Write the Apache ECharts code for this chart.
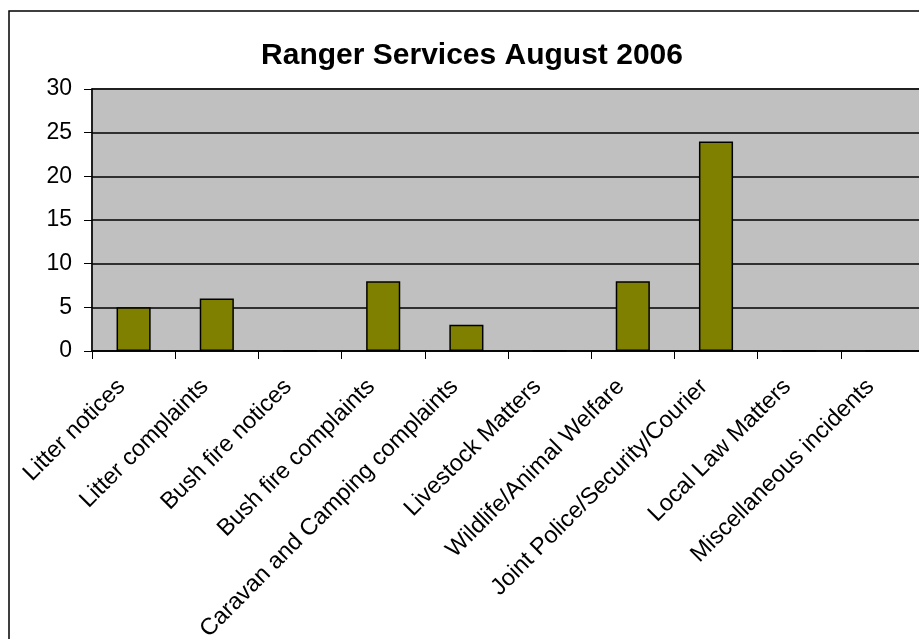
<!DOCTYPE html>
<html><head><meta charset="utf-8">
<script src="https://cdn.jsdelivr.net/npm/echarts@6/dist/echarts.min.js"></script>
<style>html,body{margin:0;padding:0;background:#fff}#c{width:919px;height:639px}</style>
</head><body><div id="c"></div>
<script>
const categories = ["Litter notices","Litter complaints","Bush fire notices","Bush fire complaints","Caravan and Camping complaints","Livestock Matters","Wildlife/Animal Welfare","Joint Police/Security/Courier","Local Law Matters","Miscellaneous incidents"];
const values = [5,6,0,8,3,0,8,24,0,0];
const yTicks = [0,5,10,15,20,25,30];
const titleText = "Ranger Services August 2006";

const chart = echarts.init(document.getElementById('c'));
const F = 'Liberation Sans, Arial, sans-serif';
chart.setOption({
  animation:false,
  backgroundColor:'#fff',
  title:{text:titleText,left:467,top:36,textAlign:'center',textStyle:{fontFamily:F,fontWeight:'bold',fontSize:30,color:'#000'}},
  graphic:[{type:'rect',shape:{x:9,y:11,width:1000,height:1000},style:{fill:null,stroke:'#000',lineWidth:1.5},z:100}],
  grid:{left:92,top:89,right:-5,bottom:288,outerBoundsMode:'none',containLabel:false,show:true,backgroundColor:'#C0C0C0',borderColor:'#808080',borderWidth:2},
  xAxis:{type:'category',data:categories,
    axisLine:{lineStyle:{color:'#000',width:1.5}},
    axisTick:{show:true,length:8,lineStyle:{color:'#000'}},
    axisLabel:{rotate:45,interval:0,fontFamily:F,fontSize:23.5,color:'#000',margin:20,padding:[0,17,0,0]}},
  yAxis:{type:'value',min:0,max:30,interval:5,
    axisLine:{show:true,lineStyle:{color:'#000',width:1.5}},
    axisTick:{show:true,length:8,lineStyle:{color:'#000'}},
    axisLabel:{fontFamily:F,fontSize:23,color:'#000',margin:20,
      formatter:v=>yTicks.includes(v)?String(v):''},
    splitLine:{show:true,lineStyle:{color:'#000',width:1.5}}},
  series:[{type:'bar',data:values,barWidth:'41%',
    itemStyle:{color:'#808000',borderColor:'#000',borderWidth:1.5}}]
});
</script></body></html>
